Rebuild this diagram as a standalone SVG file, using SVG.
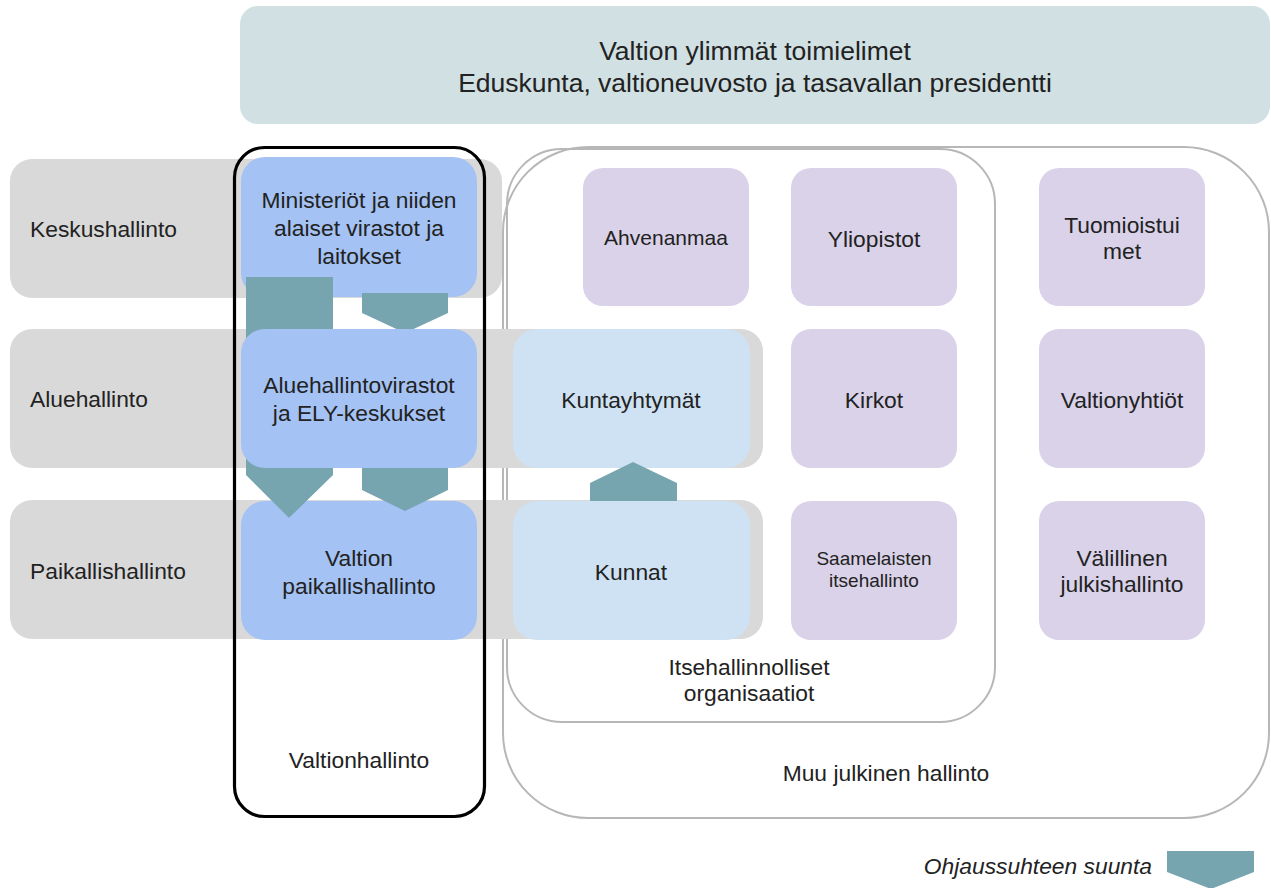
<svg xmlns="http://www.w3.org/2000/svg" width="1271" height="888" viewBox="0 0 1271 888">
<style>
text{font-family:"Liberation Sans",Arial,sans-serif;fill:#222;font-size:22.8px}
.c{text-anchor:middle}
.band{fill:#d9d9d9}
.blue{fill:#a4c2f4}
.lblue{fill:#cfe2f3}
.purp{fill:#d9d2e9}
.outl{fill:none;stroke:#b7b7b7;stroke-width:2}
.arr{fill:#76a5af}
</style>
<rect width="1271" height="888" fill="#fff"/>
<g id="ylimmat">
<rect x="240" y="6" width="1030" height="118" rx="18" fill="#d0e0e3"/>
<text class="c" x="755" y="60" style="font-size:26.5px">Valtion ylimmät toimielimet</text>
<text class="c" x="755" y="92" style="font-size:26.5px">Eduskunta, valtioneuvosto ja tasavallan presidentti</text>
</g>
<g id="muu-julkinen-hallinto">
<rect class="outl" x="503" y="147" width="766" height="671" rx="85"/>
<text class="c" x="886" y="781">Muu julkinen hallinto</text>
</g>
<g id="itsehallinnolliset">
<rect class="outl" x="507" y="149" width="488" height="573" rx="55"/>
<text class="c" x="749" y="675">Itsehallinnolliset</text>
<text class="c" x="749" y="701">organisaatiot</text>
</g>
<g id="keskushallinto">
<rect class="band" x="10" y="159" width="492" height="139" rx="22"/>
<text x="30" y="237">Keskushallinto</text>
</g>
<g id="aluehallinto">
<rect class="band" x="10" y="329" width="753" height="139" rx="22"/>
<text x="30" y="407">Aluehallinto</text>
</g>
<g id="paikallishallinto">
<rect class="band" x="10" y="500" width="753" height="139" rx="22"/>
<text x="30" y="579">Paikallishallinto</text>
</g>
<g id="ahvenanmaa">
<rect class="purp" x="583" y="168" width="166" height="138" rx="20"/>
<text class="c" x="666" y="245" style="font-size:21px">Ahvenanmaa</text>
</g>
<g id="yliopistot">
<rect class="purp" x="791" y="168" width="166" height="138" rx="20"/>
<text class="c" x="874" y="247">Yliopistot</text>
</g>
<g id="tuomioistuimet">
<rect class="purp" x="1039" y="168" width="166" height="138" rx="20"/>
<text class="c" x="1122" y="233">Tuomioistui</text>
<text class="c" x="1122" y="259">met</text>
</g>
<g id="kirkot">
<rect class="purp" x="791" y="329" width="166" height="139" rx="20"/>
<text class="c" x="874" y="408">Kirkot</text>
</g>
<g id="valtionyhtiot">
<rect class="purp" x="1039" y="329" width="166" height="139" rx="20"/>
<text class="c" x="1122" y="408">Valtionyhtiöt</text>
</g>
<g id="saamelaisten-itsehallinto">
<rect class="purp" x="791" y="501" width="166" height="139" rx="20"/>
<text class="c" x="874" y="565" style="font-size:19px">Saamelaisten</text>
<text class="c" x="874" y="587" style="font-size:19px">itsehallinto</text>
</g>
<g id="valillinen-julkishallinto">
<rect class="purp" x="1039" y="501" width="166" height="139" rx="20"/>
<text class="c" x="1122" y="566">Välillinen</text>
<text class="c" x="1122" y="592">julkishallinto</text>
</g>
<g id="ministeriot">
<rect class="blue" x="241" y="157" width="236" height="140" rx="24"/>
<text class="c" x="359" y="208">Ministeriöt ja niiden</text>
<text class="c" x="359" y="236">alaiset virastot ja</text>
<text class="c" x="359" y="264">laitokset</text>
</g>
<g id="valtion-paikallishallinto">
<rect class="blue" x="241" y="501" width="236" height="139" rx="24"/>
<text class="c" x="359" y="566">Valtion</text>
<text class="c" x="359" y="594">paikallishallinto</text>
</g>
<g id="kunnat">
<rect class="lblue" x="513" y="501" width="237" height="139" rx="24"/>
<text class="c" x="631" y="580">Kunnat</text>
</g>
<g id="kuntayhtymat">
<rect class="lblue" x="513" y="329" width="237" height="139" rx="24"/>
<text class="c" x="631" y="408">Kuntayhtymät</text>
</g>
<g id="connectors">
<polygon class="arr" points="246,277 333,277 333,340 289,360 246,340"/>
<polygon class="arr" points="362,293 448,293 448,313 405,333 362,313"/>
<polygon class="arr" points="246,440 333,440 333,475 289,518 246,475"/>
<polygon class="arr" points="362,440 448,440 448,490 405,511 362,490"/>
<polygon class="arr" points="633,462 677,483 677,501 590,501 590,483"/>
</g>
<g id="aluehallintovirastot">
<rect class="blue" x="241" y="329" width="236" height="139" rx="24"/>
<text class="c" x="359" y="393">Aluehallintovirastot</text>
<text class="c" x="359" y="421">ja ELY-keskukset</text>
</g>
<g id="valtionhallinto">
<rect x="234.5" y="147.5" width="250" height="669" rx="30" fill="none" stroke="#000" stroke-width="3.2"/>
<text class="c" x="359" y="768">Valtionhallinto</text>
</g>
<g id="legend">
<text x="1152" y="874" style="font-style:italic;text-anchor:end">Ohjaussuhteen suunta</text>
<polygon class="arr" points="1167,851 1254,851 1254,872 1211,889 1167,872"/>
</g>
</svg>
